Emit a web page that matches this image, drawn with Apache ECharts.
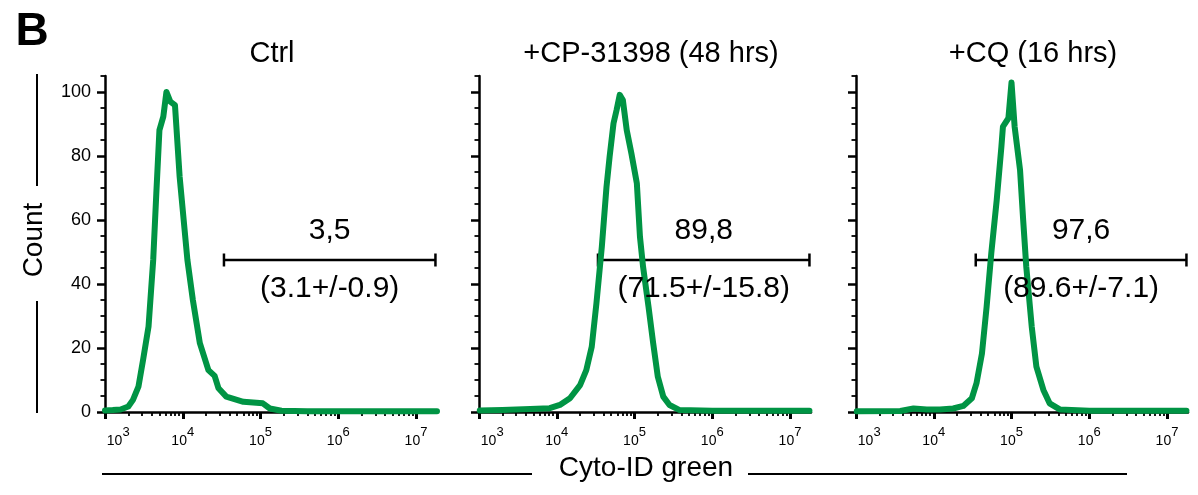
<!DOCTYPE html>
<html><head><meta charset="utf-8">
<script src="https://cdn.jsdelivr.net/npm/echarts@6/dist/echarts.min.js"></script>
<style>html,body{margin:0;padding:0;background:#fff}#c{width:1198px;height:495px}</style>
</head><body><div id="c"></div>
<script>
// ---- data (x values are log10 of Cyto-ID green intensity, y is Count %) ----
const panelTitles = ['Ctrl', '+CP-31398 (48 hrs)', '+CQ (16 hrs)'];
const ctrlCurve = [[3.00,0.5],[3.10,0.6],[3.20,0.8],[3.30,1.7],[3.36,3.8],[3.43,7.9],[3.49,16.3],[3.56,26.7],[3.62,47.5],[3.66,68.3],[3.70,88.1],[3.75,92.3],[3.79,100],[3.84,97],[3.90,95.9],[3.96,73.5],[4.06,47.5],[4.13,35],[4.22,21.5],[4.33,13.1],[4.41,11.3],[4.46,7.4],[4.56,4.8],[4.78,3.2],[5.03,2.7],[5.12,1.1],[5.27,0.4],[5.6,0.2],[6.0,0.2],[6.5,0.2],[7.0,0.2],[7.27,0.2]];
const cpCurve = [[3.01,0.5],[3.30,0.6],[3.66,0.9],[3.91,1.2],[4.04,2.2],[4.17,4.3],[4.30,8.4],[4.38,13.1],[4.45,20.4],[4.51,33.9],[4.58,51.7],[4.64,70.4],[4.68,79.8],[4.73,90.2],[4.77,94.4],[4.81,99.1],[4.85,97.5],[4.90,88.1],[4.96,80.8],[5.03,71.5],[5.07,54.8],[5.11,45.4],[5.18,32.9],[5.24,21.5],[5.30,11],[5.37,4.8],[5.45,2.2],[5.58,0.6],[6.0,0.4],[6.5,0.4],[7.0,0.4],[7.25,0.4]];
const cqCurve = [[3.01,0.2],[3.57,0.3],[3.74,1.1],[3.91,0.8],[4.08,0.8],[4.25,1.1],[4.38,1.9],[4.49,4.3],[4.55,9],[4.62,18.3],[4.68,32.9],[4.74,49.6],[4.81,66.3],[4.87,82.9],[4.89,89.2],[4.96,91.8],[5.00,103],[5.04,89.2],[5.11,75.6],[5.15,60],[5.19,45.4],[5.26,26.7],[5.32,14.2],[5.41,6.9],[5.49,2.7],[5.62,0.8],[6.0,0.4],[6.5,0.4],[7.0,0.4],[7.25,0.4]];
const curves = [ctrlCurve, cpCurve, cqCurve];
const gateStart = [4.53, 4.53, 4.54];
const gateEnd = [7.25, 7.25, 7.25];
const gateLevel = [47.5, 47.5, 47.5];
const gatePercent = ['3,5', '89,8', '97,6'];
const gateMeanSd = ['(3.1+/-0.9)', '(71.5+/-15.8)', '(89.6+/-7.1)'];
const xDecades = [3, 4, 5, 6, 7];
const xLabelPos = [3.17, 4, 5, 6, 7];
const yTicks = [0, 20, 40, 60, 80, 100];
const yMinorTicks = [5,10,15,25,30,35,45,50,55,65,70,75,85,90,95,105];

// ---- layout ----
const FONT = '"Liberation Sans", Arial, sans-serif';
const gridLeft = [105, 479, 856];
const gridTop = 76, gridW = 332, gridH = 336;
const xMin = 3, xMax = 7.27, yMin = 0, yMax = 105;
const GREEN = '#009444';

const xMinor = [];
for (let d = 3; d <= 6; d++) for (let k = 2; k <= 9; k++) xMinor.push(d + Math.log10(k));

const grid = [], xAxis = [], yAxis = [], series = [];
for (let i = 0; i < 3; i++) {
  grid.push({left: gridLeft[i], top: gridTop, width: gridW, height: gridH});
}
for (let i = 0; i < 3; i++) {
  grid.push({left: gridLeft[i], top: gridTop, width: gridW, height: gridH});
}
for (let i = 0; i < 3; i++) {
  xAxis.push({
    type: 'value', gridIndex: i, min: xMin, max: xMax,
    axisLine: {show: true, lineStyle: {color: '#000', width: 2.5}},
    axisTick: {show: true, customValues: xDecades, length: 7, lineStyle: {color: '#000', width: 3}},
    axisLabel: {
      show: true, customValues: xLabelPos, margin: 14, color: '#000',
      formatter: v => '{b|10}{s|' + Math.round(v) + '}',
      rich: {
        b: {fontSize: 14, fontFamily: FONT, color: '#000', verticalAlign: 'bottom'},
        s: {fontSize: 13, fontFamily: FONT, color: '#000', padding: [0, 0, 9, 0], verticalAlign: 'top'}
      }
    },
    splitLine: {show: false}
  });
  yAxis.push({
    type: 'value', gridIndex: i, min: yMin, max: yMax,
    axisLine: {show: true, lineStyle: {color: '#000', width: 2.5}},
    axisTick: {show: true, customValues: yTicks, length: 8, lineStyle: {color: '#000', width: 2.5}},
    axisLabel: {show: i === 0, customValues: yTicks, margin: 14, fontSize: 18, fontFamily: FONT, color: '#000'},
    splitLine: {show: false}
  });
}
for (let i = 0; i < 3; i++) {
  xAxis.push({
    type: 'value', gridIndex: 3 + i, min: xMin, max: xMax,
    axisLine: {show: false},
    axisTick: {show: true, customValues: xMinor, length: 4, lineStyle: {color: '#000', width: 1.8}},
    axisLabel: {show: false}, splitLine: {show: false}
  });
  yAxis.push({
    type: 'value', gridIndex: 3 + i, min: yMin, max: yMax,
    axisLine: {show: false},
    axisTick: {show: true, customValues: yMinorTicks, length: 4.5, lineStyle: {color: '#000', width: 1.8}},
    axisLabel: {show: false}, splitLine: {show: false}
  });
}
for (let i = 0; i < 3; i++) {
  series.push({
    type: 'line', xAxisIndex: i, yAxisIndex: i, data: [[gateStart[i], gateLevel[i]], [gateEnd[i], gateLevel[i]]],
    symbol: 'rect', symbolSize: [2.5, 13], showSymbol: true, showAllSymbol: true,
    itemStyle: {color: '#000'}, lineStyle: {color: '#000', width: 2.5}, silent: true, z: 2
  });
  series.push({
    type: 'line', xAxisIndex: i, yAxisIndex: i, data: curves[i], showSymbol: false, smooth: false,
    lineStyle: {color: GREEN, width: 6, cap: 'round', join: 'round'}, itemStyle: {color: GREEN}, silent: true, z: 3
  });
  series.push({
    type: 'scatter', xAxisIndex: i, yAxisIndex: i, symbolSize: 0,
    data: [[(gateStart[i] + gateEnd[i]) / 2, gateLevel[i]]], silent: true, z: 4,
    itemStyle: {opacity: 1, color: '#000'},
    label: {show: true, position: 'inside', formatter: gatePercent[i] + '\n \n' + gateMeanSd[i], opacity: 1,
      fontSize: 30, lineHeight: 29, fontFamily: FONT, color: '#000', align: 'center', verticalAlign: 'middle'}
  });
}

const graphic = [
  {type: 'text', x: 32, y: 32, style: {text: 'B', fontSize: 46, fontWeight: 'bold', fontFamily: FONT, fill: '#000', align: 'center', verticalAlign: 'middle'}},
  {type: 'text', x: 272, y: 54, style: {text: panelTitles[0], fontSize: 29, fontFamily: FONT, fill: '#000', align: 'center', verticalAlign: 'middle'}},
  {type: 'text', x: 651, y: 54, style: {text: panelTitles[1], fontSize: 29, fontFamily: FONT, fill: '#000', align: 'center', verticalAlign: 'middle'}},
  {type: 'text', x: 1033, y: 54, style: {text: panelTitles[2], fontSize: 29, fontFamily: FONT, fill: '#000', align: 'center', verticalAlign: 'middle'}},
  {type: 'text', x: 34, y: 240, rotation: Math.PI / 2, style: {text: 'Count', fontSize: 28, fontFamily: FONT, fill: '#000', align: 'center', verticalAlign: 'middle'}},
  {type: 'line', shape: {x1: 37, y1: 74, x2: 37, y2: 186}, style: {stroke: '#000', lineWidth: 2}},
  {type: 'line', shape: {x1: 37, y1: 301, x2: 37, y2: 413}, style: {stroke: '#000', lineWidth: 2}},
  {type: 'text', x: 646, y: 468, style: {text: 'Cyto-ID green', fontSize: 28, fontFamily: FONT, fill: '#000', align: 'center', verticalAlign: 'middle'}},
  {type: 'line', shape: {x1: 102, y1: 474, x2: 532, y2: 474}, style: {stroke: '#000', lineWidth: 2}},
  {type: 'line', shape: {x1: 748, y1: 474, x2: 1127, y2: 474}, style: {stroke: '#000', lineWidth: 2}}
];

const chart = echarts.init(document.getElementById('c'), null, {renderer: 'canvas'});
chart.setOption({
  animation: false,
  backgroundColor: '#fff',
  textStyle: {fontFamily: FONT},
  grid, xAxis, yAxis, series, graphic
});
</script></body></html>
